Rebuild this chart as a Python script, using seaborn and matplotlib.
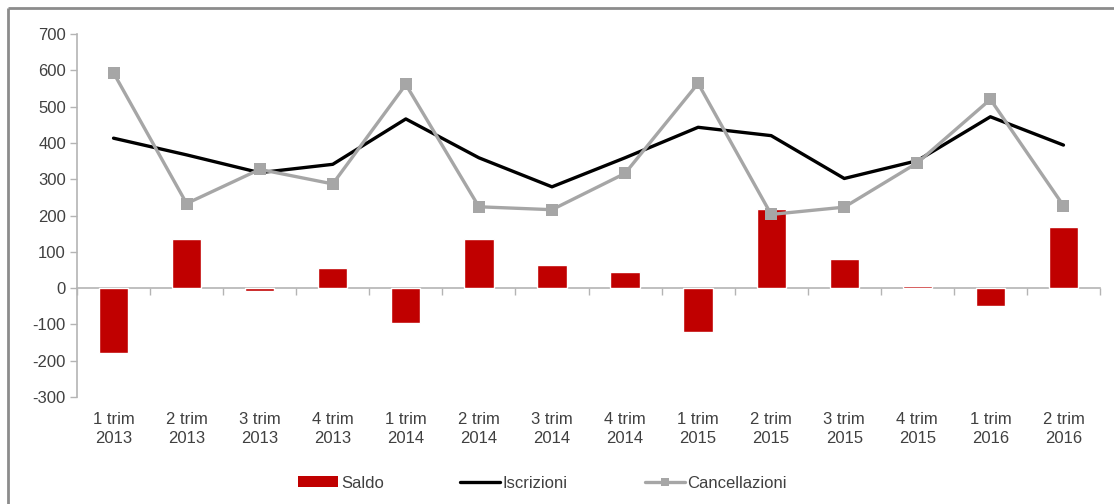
import matplotlib
matplotlib.use("Agg")
import matplotlib.pyplot as plt
from matplotlib.lines import Line2D
from matplotlib.patches import Patch
import numpy as np
import pandas as pd
import seaborn as sns

# Quarterly registrations, cancellations and net balance
quarters = ["1 trim\n2013", "2 trim\n2013", "3 trim\n2013", "4 trim\n2013",
            "1 trim\n2014", "2 trim\n2014", "3 trim\n2014", "4 trim\n2014",
            "1 trim\n2015", "2 trim\n2015", "3 trim\n2015", "4 trim\n2015",
            "1 trim\n2016", "2 trim\n2016"]
iscrizioni = [413, 367, 318, 341, 466, 359, 279, 359, 443, 420, 302, 351, 472, 394]
cancellazioni = [593, 233, 327, 287, 561, 224, 216, 316, 564, 203, 223, 345, 520, 227]
saldo = [-180, 134, -9, 54, -95, 135, 63, 43, -121, 217, 79, 7, -48, 167]
y_ticks = [-300, -200, -100, 0, 100, 200, 300, 400, 500, 600, 700]

RED = "#C00000"
GREY_LINE = "#A6A6A6"
AXIS_GREY = "#B4B4B4"
TEXT = "#404040"
FS = 12

sns.set_theme(style="white")
plt.rcParams["font.family"] = ["Liberation Sans", "DejaVu Sans"]
plt.rcParams["axes.unicode_minus"] = False

df = pd.DataFrame({"quarter": quarters, "pos": np.arange(len(quarters)),
                   "Saldo": saldo, "Iscrizioni": iscrizioni,
                   "Cancellazioni": cancellazioni})

W, H = 1114, 504
fig = plt.figure(figsize=(W / 100, H / 100), dpi=100)
ax = fig.add_axes([77 / W, 1 - 397 / H, (1100 - 77) / W, (397 - 34) / H])

sns.barplot(data=df, x="quarter", y="Saldo", order=quarters, color=RED,
            saturation=1, width=0.4, ax=ax, zorder=3)
sns.lineplot(data=df, x="pos", y="Iscrizioni", color="black", linewidth=2.4,
             ax=ax, zorder=4)
sns.lineplot(data=df, x="pos", y="Cancellazioni", color=GREY_LINE, linewidth=2.4,
             marker="s", markersize=8, markeredgewidth=0, ax=ax, zorder=5)

n = len(quarters)
ax.set_xlim(-0.5, n - 0.5)
ax.set_ylim(-300, 700)
ax.set_xlabel("")
ax.set_ylabel("")

# y axis
ax.set_yticks(y_ticks)
ax.tick_params(axis="y", which="major", direction="out", length=5, width=1,
               color=AXIS_GREY, labelsize=FS, labelcolor=TEXT, pad=3, left=True)

# x axis crossing at zero with boundary ticks; labels at the bottom
ax.spines["bottom"].set_position(("data", 0))
ax.set_xticks(np.arange(n + 1) - 0.5, labels=[""] * (n + 1))
ax.set_xticks(np.arange(n), labels=quarters, minor=True)
ax.tick_params(axis="x", which="major", direction="out", length=5, width=1,
               color=AXIS_GREY, bottom=True)
ax.tick_params(axis="x", which="minor", length=0, labelsize=FS,
               labelcolor=TEXT, pad=89)
for lbl in ax.get_xticklabels(minor=True):
    lbl.set_linespacing(1.32)

for side in ["top", "right"]:
    ax.spines[side].set_visible(False)
for side in ["left", "bottom"]:
    ax.spines[side].set_color(AXIS_GREY)
    ax.spines[side].set_linewidth(1.2)
ax.grid(False)

handles = [Patch(facecolor=RED, edgecolor="none"),
           Line2D([], [], color="black", linewidth=2.4),
           Line2D([], [], color=GREY_LINE, linewidth=2.4, marker="s",
                  markersize=6, markeredgewidth=0)]
fig.legend(handles, ["Saldo", "Iscrizioni", "Cancellazioni"], ncol=3,
           loc="center", bbox_to_anchor=(0.487, 1 - 483 / H), frameon=False,
           fontsize=FS, labelcolor=TEXT, handlelength=2.4, handleheight=0.6,
           handletextpad=0.15, columnspacing=4.6)

# outer chart border (top and left edges)
border = dict(color="#8C8C8C", linewidth=2, transform=fig.transFigure,
              solid_capstyle="butt")
fig.add_artist(Line2D([8 / W, 1], [1 - 8 / H, 1 - 8 / H], **border))
fig.add_artist(Line2D([8 / W, 8 / W], [0, 1 - 8 / H], **border))

fig.savefig("out.png", dpi=100, facecolor="white")
